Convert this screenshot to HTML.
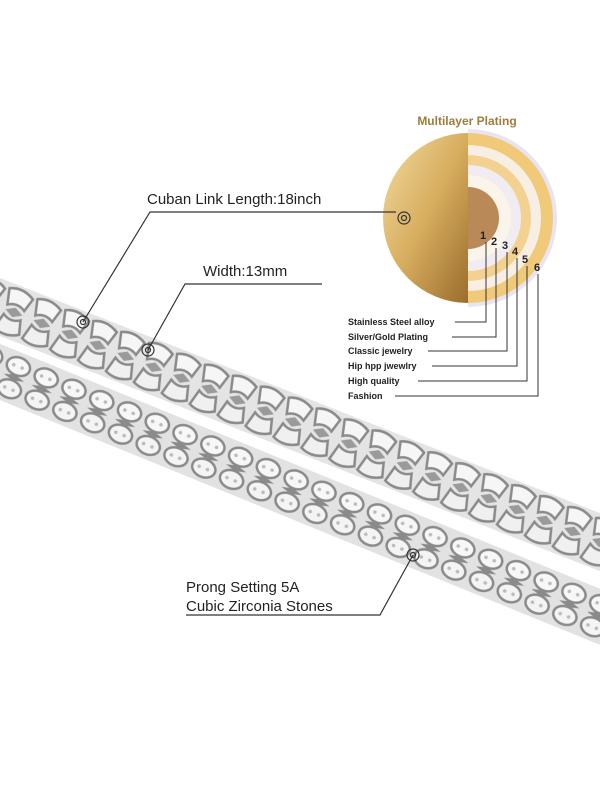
<!DOCTYPE html>
<html><head><meta charset="utf-8"><style>
html,body{margin:0;padding:0;background:#fff;}
svg{display:block;font-family:"Liberation Sans",sans-serif;}
</style></head><body>
<svg width="600" height="800" viewBox="0 0 600 800">
<defs>
<linearGradient id="gold" x1="0" y1="0" x2="1" y2="1">
<stop offset="0" stop-color="#f3dca0"/><stop offset="0.5" stop-color="#d7ad5f"/><stop offset="1" stop-color="#9a6d2c"/>
</linearGradient>
<pattern id="links" width="30" height="54" patternUnits="userSpaceOnUse" y="-27">
<rect width="30" height="54" fill="#e4e4e4"/>
<path d="M2,6 Q15,0 28,8 L24,22 Q15,16 6,22 Z" fill="#f6f6f6" stroke="#8a8a8a" stroke-width="2.5"/>
<path d="M2,48 Q15,54 28,46 L24,32 Q15,38 6,32 Z" fill="#f0f0f0" stroke="#8a8a8a" stroke-width="2.5"/>
<path d="M6,27 L15,22 L24,27 L15,32 Z" fill="#9a9a9a"/>
</pattern>
<pattern id="ice" width="30" height="52" patternUnits="userSpaceOnUse" y="-26">
<rect width="30" height="52" fill="#e2e2e2"/>
<ellipse cx="15" cy="14" rx="12" ry="9" fill="#f7f7f7" stroke="#8a8a8a" stroke-width="2.5"/>
<ellipse cx="15" cy="38" rx="12" ry="9" fill="#f4f4f4" stroke="#8a8a8a" stroke-width="2.5"/>
<circle cx="10" cy="14" r="1.8" fill="#bbb"/><circle cx="19" cy="14" r="1.8" fill="#bbb"/>
<circle cx="10" cy="38" r="1.8" fill="#bbb"/><circle cx="19" cy="38" r="1.8" fill="#bbb"/>
<path d="M4,26 L15,23 L26,26 L15,29 Z" fill="#8a8a8a"/>
</pattern>
</defs>
<rect width="600" height="800" fill="#fff"/>
<!-- chains -->
<g transform="translate(0,307) rotate(21.4)">
<rect x="-60" y="-27" width="760" height="54" fill="url(#links)"/>
</g>
<g transform="translate(0,372) rotate(22.2)">
<rect x="-60" y="-26" width="760" height="52" fill="url(#ice)"/>
</g>
<!-- plating circle -->
<path d="M468,133 A85,85 0 0 0 468,303 Z" fill="url(#gold)"/>
<path d="M468,129 A89,89 0 0 1 468,307 Z" fill="#e8e4f2"/>
<path d="M468,133 A85,85 0 0 1 468,303 Z" fill="#f0c979"/>
<path d="M468,145 A73,73 0 0 1 468,291 Z" fill="#f8efe4"/>
<path d="M468,155 A63,63 0 0 1 468,281 Z" fill="#f3d291"/>
<path d="M468,165 A53,53 0 0 1 468,271 Z" fill="#f1ecf2"/>
<path d="M468,175 A43,43 0 0 1 468,261 Z" fill="#fbf4ea"/>
<path d="M468,187 A31,31 0 0 1 468,249 Z" fill="#b98a57"/>
<text x="467" y="125" font-size="12" font-weight="bold" fill="#a07c3c" text-anchor="middle">Multilayer Plating</text>
<g font-size="11" font-weight="bold" fill="#222">
<text x="480" y="239">1</text><text x="491" y="245">2</text><text x="502" y="249">3</text>
<text x="512" y="255">4</text><text x="522" y="263">5</text><text x="534" y="271">6</text>
</g>
<g stroke="#333" stroke-width="1" fill="none">
<polyline points="486,242 486,322 455,322"/>
<polyline points="496,248 496,337 452,337"/>
<polyline points="507,252 507,351 428,351"/>
<polyline points="517,258 517,366 432,366"/>
<polyline points="527,266 527,381 418,381"/>
<polyline points="538,274 538,396 395,396"/>
</g>
<g font-size="9" font-weight="bold" fill="#222">
<text x="348" y="325">Stainless Steel alloy</text>
<text x="348" y="340">Silver/Gold Plating</text>
<text x="348" y="354">Classic jewelry</text>
<text x="348" y="369">Hip hpp jwewlry</text>
<text x="348" y="384">High quality</text>
<text x="348" y="399">Fashion</text>
</g>
<!-- callouts -->
<g stroke="#333" stroke-width="1.2" fill="none">
<polyline points="83,322 150,212 396,212"/>
<circle cx="404" cy="218" r="6"/><circle cx="404" cy="218" r="2.5"/>
<circle cx="83" cy="322" r="6"/><circle cx="83" cy="322" r="2.5"/>
<polyline points="148,350 185,284 322,284"/>
<circle cx="148" cy="350" r="6"/><circle cx="148" cy="350" r="2.5"/>
<polyline points="413,555 380,615 186,615"/>
<circle cx="413" cy="555" r="6"/><circle cx="413" cy="555" r="2.5"/>
</g>
<g font-size="15" fill="#222">
<text x="147" y="204">Cuban Link Length:18inch</text>
<text x="203" y="276">Width:13mm</text>
<text x="186" y="592">Prong Setting 5A</text>
<text x="186" y="611">Cubic Zirconia Stones</text>
</g>
</svg>
</body></html>
